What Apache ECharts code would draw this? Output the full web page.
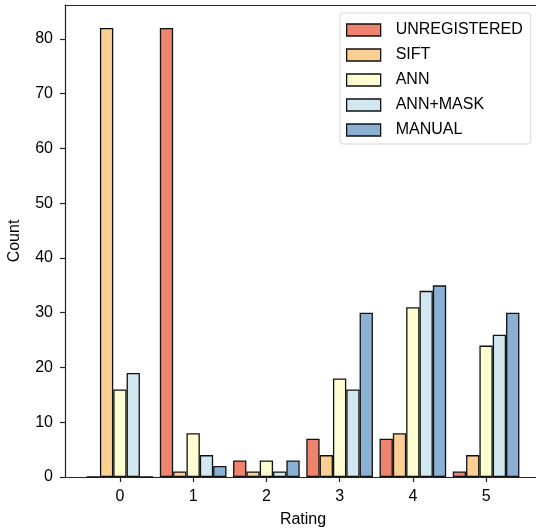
<!DOCTYPE html>
<html>
<head>
<meta charset="utf-8">
<script src="https://cdn.jsdelivr.net/npm/echarts@6/dist/echarts.min.js"></script>
<style>html,body{margin:0;padding:0;background:#fff}#c{width:536px;height:532px}</style>
</head>
<body>
<div id="c"></div>
<script>
const ratings = [0, 1, 2, 3, 4, 5];
const seriesNames = ['UNREGISTERED', 'SIFT', 'ANN', 'ANN+MASK', 'MANUAL'];
const unregistered = [0, 82, 3, 7, 7, 1];
const sift = [82, 1, 1, 4, 8, 4];
const ann = [16, 8, 3, 18, 31, 24];
const annMask = [19, 4, 1, 16, 34, 26];
const manual = [0, 2, 3, 30, 35, 30];
const yTicks = [0, 10, 20, 30, 40, 50, 60, 70, 80];
const xTicks = [0, 1, 2, 3, 4, 5];
const colors = ['#ee836e', '#fdcf92', '#fefed2', '#d1e8f1', '#8ab1d4'];
const values = [unregistered, sift, ann, annMask, manual];

const font = 'Liberation Sans, Arial, sans-serif';
const chart = echarts.init(document.getElementById('c'), null, {renderer: 'canvas'});
chart.setOption({
  animation: false,
  backgroundColor: '#fff',
  textStyle: {fontFamily: font},
  grid: {left: 65, top: 5, bottom: 55, right: -5, containLabel: false, outerBoundsMode: 'none'},
  legend: {
    orient: 'vertical', left: 340, top: 13,
    data: seriesNames,
    itemWidth: 34, itemHeight: 12, itemGap: 9,
    padding: [9, 8, 6, 6],
    backgroundColor: '#fff', borderColor: '#d6d6d6', borderWidth: 1, borderRadius: 3,
    textStyle: {fontFamily: font, fontSize: 16, color: '#000', padding: [0, 0, 0, 10]},
    itemStyle: {borderColor: '#111', borderWidth: 1.3},
    icon: 'rect'
  },
  xAxis: [{
    type: 'value', min: -0.75, max: 5.75,
    name: 'Rating', nameLocation: 'middle', nameGap: 35,
    nameTextStyle: {fontFamily: font, fontSize: 16, color: '#000'},
    axisLine: {show: true, onZero: false, lineStyle: {color: '#222', width: 1.2}},
    axisTick: {show: true, customValues: xTicks, length: 5, lineStyle: {color: '#222', width: 1.2}},
    axisLabel: {customValues: xTicks, margin: 12, fontFamily: font, fontSize: 16, color: '#000'},
    splitLine: {show: false}
  }, {
    type: 'value', min: -0.75, max: 5.75, position: 'top',
    axisLine: {show: true, onZero: false, lineStyle: {color: '#222', width: 1.2}},
    axisTick: {show: false}, axisLabel: {show: false}, splitLine: {show: false}
  }],
  yAxis: {
    type: 'value', min: 0, max: 86.2, position: 'left',
    name: 'Count', nameLocation: 'middle', nameGap: 42,
    nameTextStyle: {fontFamily: font, fontSize: 16, color: '#000'},
    axisLine: {show: true, onZero: false, lineStyle: {color: '#222', width: 1.2}},
    axisTick: {show: true, customValues: yTicks, length: 5, lineStyle: {color: '#222', width: 1.2}},
    axisLabel: {customValues: yTicks, margin: 12, fontFamily: font, fontSize: 16, color: '#000'},
    splitLine: {show: false}
  },
  series: seriesNames.map((name, i) => ({
    name: name, type: 'bar', xAxisIndex: 0,
    barGap: '0%', barCategoryGap: '9%',
    itemStyle: {color: colors[i], borderColor: '#111', borderWidth: 1.3},
    data: ratings.map((r, j) => [r, values[i][j]])
  }))
});
</script>
</body>
</html>
